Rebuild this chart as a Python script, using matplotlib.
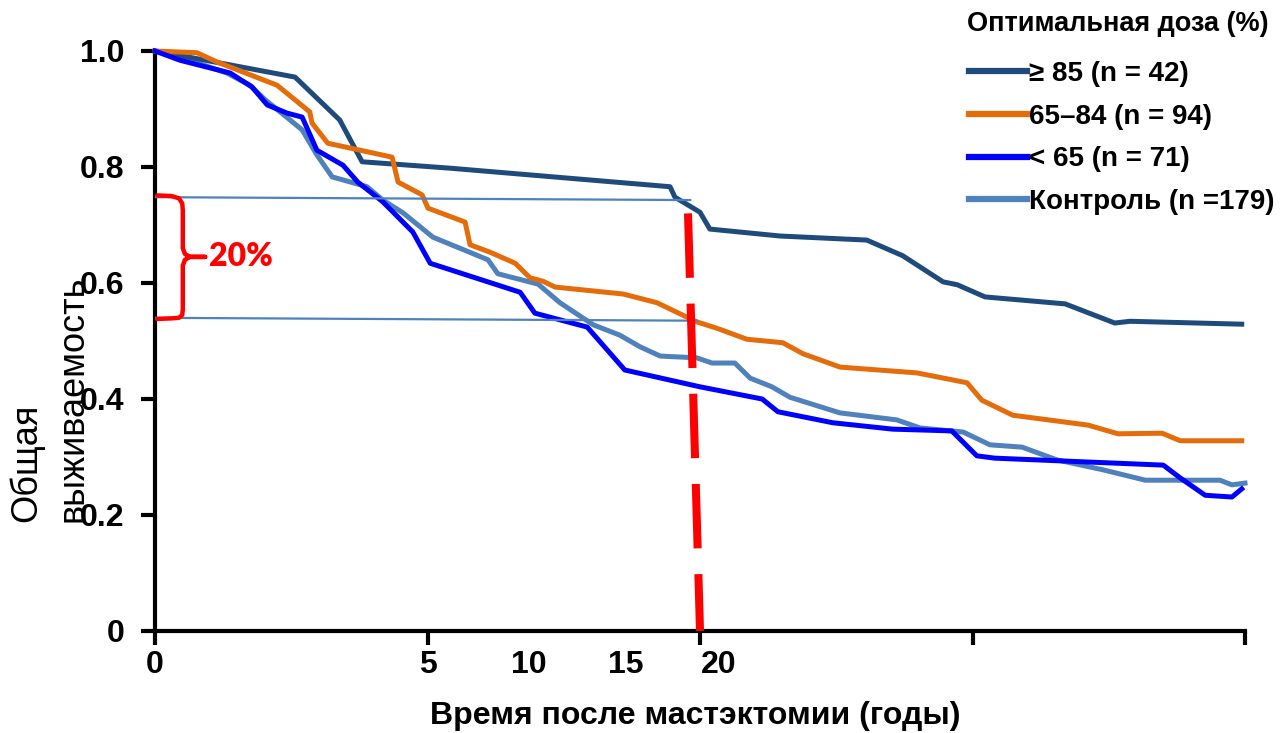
import matplotlib
matplotlib.use('Agg')
import matplotlib.pyplot as plt
import matplotlib.transforms as mtransforms

plt.rcParams['font.family'] = ['Liberation Sans', 'DejaVu Sans']

# Survival curves (years, overall survival)
hi_x = [0, 0.70, 2.57, 3.39, 3.80, 5.41, 9.45, 9.54, 10.0, 10.18, 11.47, 13.06, 13.72,
        14.46, 14.72, 15.23, 16.70, 17.61, 17.89, 19.94]
hi_y = [1.0, 0.988, 0.955, 0.881, 0.809, 0.798, 0.766, 0.748, 0.722, 0.693, 0.681, 0.674, 0.647,
        0.602, 0.597, 0.576, 0.564, 0.531, 0.534, 0.529]

mid_x = [0, 0.77, 1.14, 2.24, 2.84, 2.88, 3.17, 4.35, 4.46, 4.90, 5.01, 5.69, 5.78, 6.15,
         6.61, 6.88, 7.12, 7.34, 8.59, 9.21, 9.94, 10.31, 10.86, 11.52, 11.89, 12.57, 13.98,
         14.90, 15.17, 15.74, 17.12, 17.67, 18.48, 18.81, 19.94]
mid_y = [1.0, 0.997, 0.981, 0.941, 0.895, 0.876, 0.841, 0.817, 0.774, 0.752, 0.729, 0.705, 0.666, 0.653,
         0.634, 0.609, 0.603, 0.593, 0.581, 0.566, 0.533, 0.522, 0.503, 0.497, 0.478, 0.455, 0.445,
         0.428, 0.398, 0.372, 0.355, 0.340, 0.341, 0.328, 0.328]

low_x = [0, 0.46, 1.38, 1.78, 2.06, 2.42, 2.70, 2.97, 3.45, 3.72, 4.18, 4.73, 5.05, 6.70,
         6.97, 7.93, 8.62, 10.0, 11.14, 11.43, 12.44, 13.54, 14.62, 15.08, 15.41, 18.50,
         18.81, 19.27, 19.76, 19.94]
low_y = [1.0, 0.984, 0.962, 0.938, 0.907, 0.893, 0.886, 0.829, 0.803, 0.774, 0.740, 0.688, 0.634, 0.584,
         0.548, 0.524, 0.450, 0.421, 0.400, 0.378, 0.359, 0.348, 0.345, 0.302, 0.298, 0.286,
         0.264, 0.234, 0.231, 0.245]

ctl_x = [0, 0.51, 1.32, 1.74, 2.02, 2.48, 2.70, 2.97, 3.25, 3.89, 4.18, 4.55, 5.10, 6.11,
         6.29, 7.03, 7.43, 8.04, 8.53, 8.90, 9.27, 9.94, 10.22, 10.64, 10.92, 11.32, 11.65,
         12.57, 13.61, 14.04, 14.83, 15.32, 15.91, 16.55, 17.39, 18.17, 19.54, 19.76, 20.0]
ctl_y = [1.0, 0.988, 0.962, 0.941, 0.916, 0.881, 0.864, 0.821, 0.783, 0.766, 0.743, 0.721, 0.679, 0.640,
         0.616, 0.598, 0.566, 0.528, 0.510, 0.490, 0.474, 0.471, 0.462, 0.462, 0.436, 0.421, 0.403,
         0.376, 0.364, 0.350, 0.343, 0.321, 0.317, 0.295, 0.278, 0.260, 0.260, 0.252, 0.255]

labels = ['≥ 85 (n = 42)', '65–84 (n = 94)', '< 65 (n = 71)', 'Контроль (n =179)']
colors = ['#1F4A7C', '#E46C0A', '#0000FF', '#4F81BD']

# annotation: 20% gap at ~10 years
gap_top_x, gap_top_y = [0, 9.82], [0.748, 0.743]
gap_bot_x, gap_bot_y = [0, 9.94], [0.540, 0.535]
cut_x, cut_y = [9.78, 10.0], [0.72, 0.0]
brace_x = [0.04, 0.30, 0.44, 0.50, 0.51, 0.51, 0.55, 0.64, 0.92, 0.64, 0.55, 0.51, 0.51, 0.50, 0.44, 0.30, 0.04]
brace_y = [0.751, 0.750, 0.746, 0.737, 0.725, 0.660, 0.650, 0.645, 0.645, 0.645, 0.640, 0.630,
           0.555, 0.545, 0.540, 0.539, 0.538]

fig = plt.figure(figsize=(12.82, 7.33), dpi=100)
ax = fig.add_axes([155 / 1282, 102 / 733, 1090 / 1282, 580 / 733])

ax.plot(ctl_x, ctl_y, color=colors[3], lw=3.6, zorder=2, clip_on=False, label=labels[3])
ax.plot(hi_x, hi_y, color=colors[0], lw=3.6, zorder=3, clip_on=False, label=labels[0])
ax.plot(mid_x, mid_y, color=colors[1], lw=3.6, zorder=3, clip_on=False, label=labels[1])
ax.plot(low_x, low_y, color=colors[2], lw=3.6, zorder=3, clip_on=False, label=labels[2])

ax.plot(gap_top_x, gap_top_y, color='#4F81BD', lw=1.6, zorder=4)
ax.plot(gap_bot_x, gap_bot_y, color='#4F81BD', lw=1.6, zorder=4)
ax.plot(cut_x, cut_y, color='#FF0000', lw=5.8, ls=(0, (8, 3.2)), zorder=5, clip_on=False)
ax.plot(brace_x, brace_y, color='#FF0000', lw=3.2, zorder=5, solid_joinstyle='round',
        solid_capstyle='round')
ax.text(1.0, 0.645, '20%', color='#FF0000', fontsize=23, fontweight='heavy',
        family=['Lato', 'DejaVu Sans'], ha='left', va='center')

ax.set_xlim(0, 20)
ax.set_ylim(0, 1)
for side in ['top', 'right']:
    ax.spines[side].set_visible(False)
for side in ['left', 'bottom']:
    ax.spines[side].set_linewidth(3)

ax.set_yticks([0, 0.2, 0.4, 0.6, 0.8, 1.0])
ax.set_yticklabels(['0', '0.2', '0.4', '0.6', '0.8', '1.0'], fontsize=23, fontweight='bold')
ax.set_xticks([0, 5, 10, 15, 20])
ax.set_xticklabels(['0', '5', '', '', ''], fontsize=23, fontweight='bold')
ax.tick_params(axis='y', length=10, width=3, pad=12)
ax.tick_params(axis='x', length=10, width=3, pad=4)

# odd tick labels placed as on the original slide
trans = mtransforms.blended_transform_factory(ax.transData, ax.transAxes)
for xv, txt in zip([6.86, 8.64, 10.35], ['10', '15', '20']):
    ax.text(xv, -0.033, txt, transform=trans, ha='center', va='top',
            fontsize=23, fontweight='bold')

fig.text(50 / 1282, (733 - 522) / 733, 'Общая\nвыживаемость', rotation=90,
         ha='center', va='bottom', multialignment='left', fontsize=26, linespacing=1.42)
fig.text(695 / 1282, (733 - 716) / 733, 'Время после мастэктомии (годы)',
         ha='center', va='center', fontsize=23, fontweight='bold')

fig.text(967 / 1282, (733 - 24) / 733, 'Оптимальная доза (%)', ha='left', va='center',
         fontsize=19.5, fontweight='bold')

handles, labs = ax.get_legend_handles_labels()
order = [1, 2, 3, 0]
leg = ax.legend([handles[i] for i in order], [labs[i] for i in order],
                loc='upper left', bbox_to_anchor=(969 / 1282, (733 - 61) / 733),
                bbox_transform=fig.transFigure,
                frameon=False, prop={'size': 20, 'weight': 'bold'},
                handlelength=2.1, handletextpad=0.07, labelspacing=0.6,
                borderpad=0, borderaxespad=0)
for line in leg.get_lines():
    line.set_linewidth(4.5)

fig.savefig('out.png', dpi=100)
